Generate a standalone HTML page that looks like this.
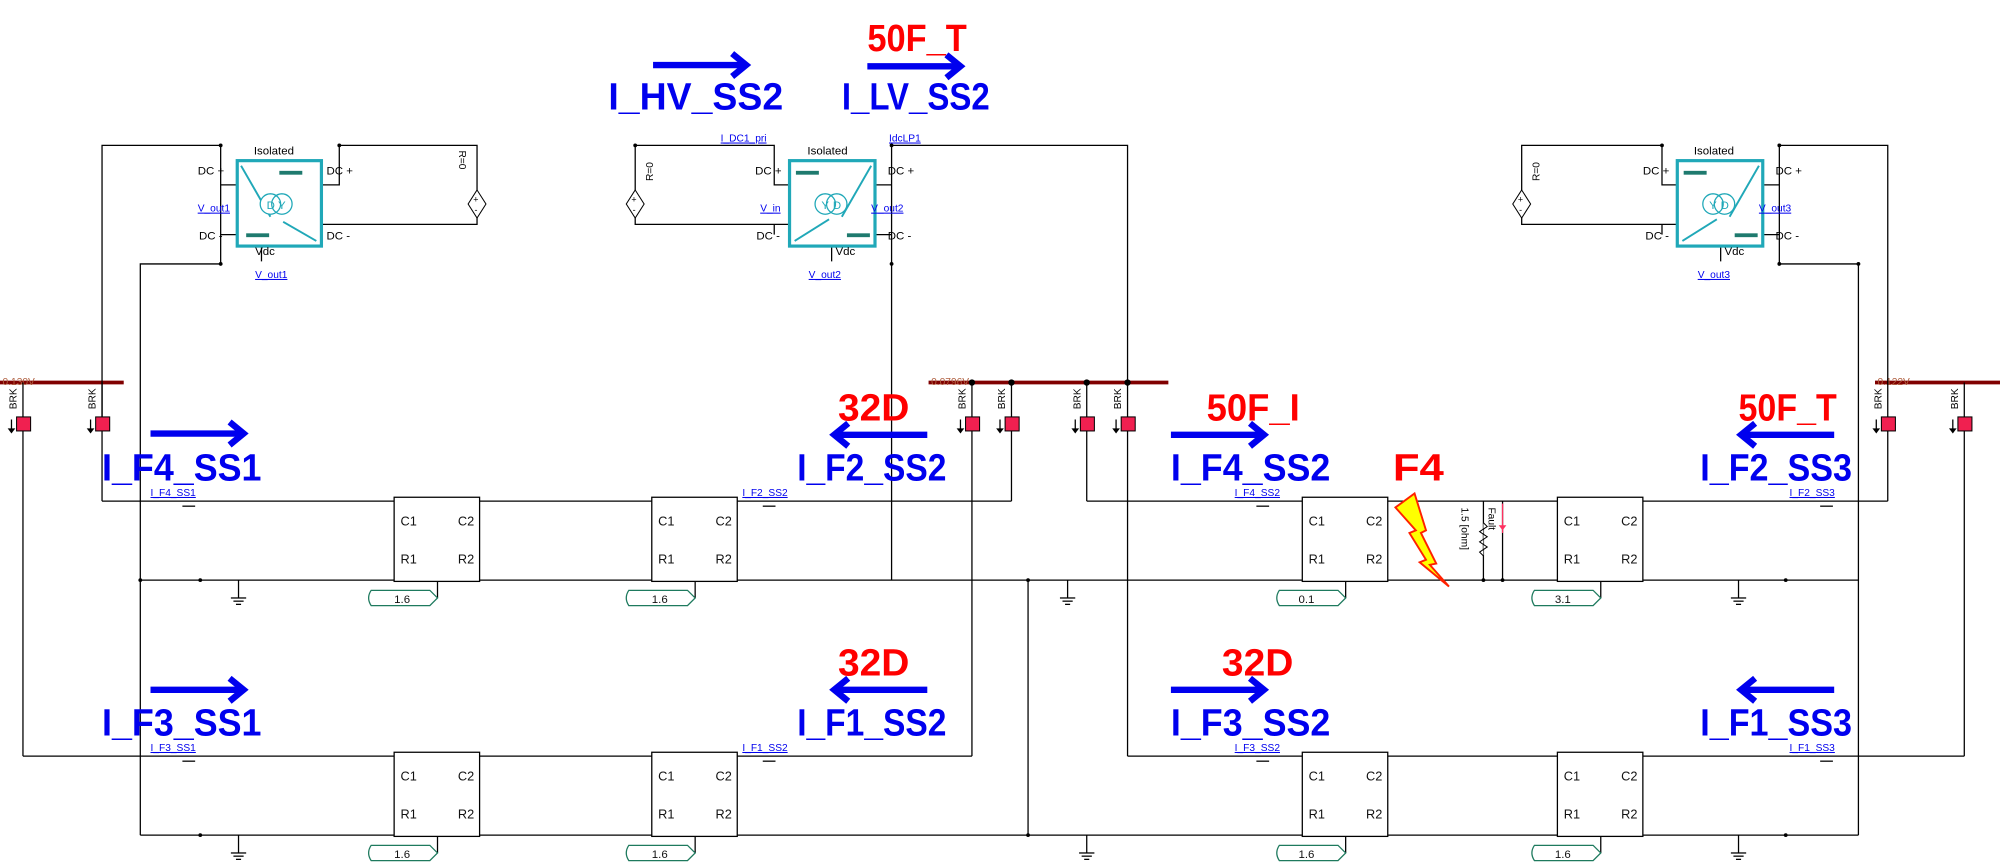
<!DOCTYPE html>
<html><head><meta charset="utf-8"><style>
html,body{margin:0;padding:0;background:#fff;}
svg{display:block;}
text{font-family:"Liberation Sans",sans-serif;}
.w{stroke:#000;stroke-width:1;fill:none;}
.big{font-weight:bold;font-size:30px;fill:#0000ee;}
.red{font-weight:bold;font-size:30px;fill:#ff0000;}
.sm{font-size:8px;fill:#0000ee;text-decoration:underline;}
.lb{font-size:9px;fill:#000;}
.tb{font-size:10px;fill:#111;}
.brk{font-size:8px;fill:#000;}
</style></head><body>
<svg width="2000" height="867" viewBox="0 0 1568 680" preserveAspectRatio="none" xmlns="http://www.w3.org/2000/svg">
<defs>
<g id="arR"><line x1="0" y1="0" x2="72" y2="0" stroke="#0000ee" stroke-width="5"/><polyline points="62,-9 73,0 62,9" fill="none" stroke="#0000ee" stroke-width="5"/></g>
<g id="arL"><line x1="0" y1="0" x2="72" y2="0" stroke="#0000ee" stroke-width="5"/><polyline points="10,-9 -1,0 10,9" fill="none" stroke="#0000ee" stroke-width="5"/></g>
<g id="tl">
<rect x="0" y="0" width="67" height="66" fill="#fff" stroke="#000" stroke-width="1"/>
<text class="tb" x="5" y="22">C1</text><text class="tb" x="50" y="22">C2</text>
<text class="tb" x="5" y="52">R1</text><text class="tb" x="50" y="52">R2</text>
<line x1="34" y1="66" x2="34" y2="79" stroke="#000"/>
</g>
<g id="tag"><path d="M4,0 H50 L56,6 L50,12 H4 Q0,6 4,0 Z" fill="#fff" stroke="#1e7a5e" stroke-width="1"/></g>
<g id="gnd"><line x1="0" y1="0" x2="0" y2="14" stroke="#000"/><line x1="-6" y1="14" x2="6" y2="14" stroke="#000"/><line x1="-4" y1="16.5" x2="4" y2="16.5" stroke="#000"/><line x1="-2" y1="19" x2="2" y2="19" stroke="#000"/></g>
<g id="brk"><rect x="-5" y="0" width="11" height="11" fill="#f02050" stroke="#000" stroke-width="0.8"/><line x1="-9" y1="2" x2="-9" y2="11" stroke="#000"/><polygon points="-12,9 -6,9 -9,13" fill="#000"/><text class="brk" transform="translate(-5,-6) rotate(-90)">BRK</text></g>
<g id="src"><polygon points="0,-11 7,0 0,11 -7,0" fill="#fff" stroke="#000" stroke-width="0.8"/><text x="-3" y="-1" font-size="7">+</text><text x="-2" y="7" font-size="7">-</text></g>
</defs>

<g stroke="#800000" stroke-width="3"><line x1="0" y1="300" x2="97" y2="300"/><line x1="728" y1="300" x2="916" y2="300"/><line x1="1470" y1="300" x2="1568" y2="300"/></g>
<text x="2" y="302" font-size="8" fill="#b06040">0.130V</text>
<text x="730" y="302" font-size="8" fill="#b06040">0.0796V</text>
<text x="1472" y="302" font-size="8" fill="#b06040">0.122V</text>
<g fill="#000"><circle cx="762" cy="300" r="2.5"/><circle cx="793" cy="300" r="2.5"/><circle cx="852" cy="300" r="2.5"/><circle cx="884" cy="300" r="2.5"/></g>

<g class="w">
<polyline points="80,393 80,114 173,114 173,207 110,207 110,655"/>
<line x1="173" y1="145" x2="186" y2="145"/><line x1="173" y1="184" x2="186" y2="184"/>
<polyline points="252,145 266,145 266,114 374,114 374,149"/>
<polyline points="252,176 374,176 374,171"/>
<line x1="205" y1="190" x2="205" y2="205"/>
<polyline points="498,149 498,114 607,114 607,145 619,145"/>
<polyline points="498,171 498,176 619,176"/>
<line x1="607" y1="176" x2="607" y2="184"/>
<polyline points="686,145 699,145"/><line x1="686" y1="184" x2="699" y2="184"/>
<polyline points="699,455 699,114 884,114 884,593"/>
<line x1="652" y1="190" x2="652" y2="205"/>
<polyline points="1193,149 1193,114 1303,114 1303,145 1315,145"/>
<polyline points="1193,171 1193,176 1315,176"/>
<line x1="1303" y1="176" x2="1303" y2="184"/>
<polyline points="1382,145 1395,145"/><line x1="1382" y1="184" x2="1395" y2="184"/>
<polyline points="1480,393 1480,114 1395,114 1395,207 1457,207 1457,655"/>
<line x1="1349" y1="190" x2="1349" y2="205"/>
<line x1="18" y1="300" x2="18" y2="593"/>
<line x1="80" y1="300" x2="80" y2="333"/>
<line x1="762" y1="300" x2="762" y2="593"/>
<line x1="793" y1="300" x2="793" y2="393"/>
<line x1="852" y1="300" x2="852" y2="393"/>
<line x1="1540" y1="300" x2="1540" y2="593"/>
<line x1="806" y1="455" x2="806" y2="655"/>
<line x1="80" y1="393" x2="793" y2="393"/>
<line x1="852" y1="393" x2="1480" y2="393"/>
<line x1="110" y1="455" x2="1457" y2="455"/>
<line x1="18" y1="593" x2="762" y2="593"/>
<line x1="884" y1="593" x2="1540" y2="593"/>
<line x1="110" y1="655" x2="1457" y2="655"/>
<line x1="1163" y1="393" x2="1163" y2="455"/>
<line x1="1178" y1="393" x2="1178" y2="455"/>
</g>
<polyline points="1163,410 1166,413 1160,417 1166,421 1160,425 1166,429 1160,433 1163,436" fill="#fff" stroke="#000" stroke-width="0.8"/>
<line x1="1178" y1="395" x2="1178" y2="418" stroke="#ff3060" stroke-width="1"/>
<polygon points="1175,412 1181,412 1178,416" fill="#ff3060"/>
<text font-size="8" transform="translate(1146,398) rotate(90)">1.5 [ohm]</text>
<text font-size="8" transform="translate(1167,398) rotate(90)">Fault</text>
<g fill="#000"><circle cx="1163" cy="455" r="1.5"/><circle cx="1178" cy="455" r="1.5"/><circle cx="157" cy="455" r="1.5"/><circle cx="157" cy="655" r="1.5"/><circle cx="110" cy="455" r="1.5"/><circle cx="806" cy="455" r="1.5"/><circle cx="806" cy="655" r="1.5"/><circle cx="1400" cy="455" r="1.5"/><circle cx="1400" cy="655" r="1.5"/><circle cx="173" cy="114" r="1.5"/><circle cx="173" cy="207" r="1.5"/><circle cx="266" cy="114" r="1.5"/><circle cx="498" cy="114" r="1.5"/><circle cx="699" cy="114" r="1.5"/><circle cx="699" cy="207" r="1.5"/><circle cx="1303" cy="114" r="1.5"/><circle cx="1395" cy="114" r="1.5"/><circle cx="1395" cy="207" r="1.5"/><circle cx="1457" cy="207" r="1.5"/></g>

<use href="#brk" x="18" y="327"/><use href="#brk" x="80" y="327"/>
<use href="#brk" x="762" y="327"/><use href="#brk" x="793" y="327"/>
<use href="#brk" x="852" y="327"/><use href="#brk" x="884" y="327"/>
<use href="#brk" x="1480" y="327"/><use href="#brk" x="1540" y="327"/>

<use href="#src" x="374" y="160"/><use href="#src" x="498" y="160"/><use href="#src" x="1193" y="160"/>
<text font-size="8" transform="translate(360,118) rotate(90)">R=0</text>
<text font-size="8" transform="translate(512,142) rotate(-90)">R=0</text>
<text font-size="8" transform="translate(1207,142) rotate(-90)">R=0</text>

<rect x="186" y="126" width="66" height="67" fill="#fff" stroke="#20a8b8" stroke-width="2.5"/>
<line x1="189" y1="130" x2="212" y2="170" stroke="#20a8b8" stroke-width="1.5"/><line x1="222" y1="174" x2="248" y2="189" stroke="#20a8b8" stroke-width="1.5"/>
<rect x="219" y="134" width="18" height="3" fill="#1e7a6e"/><rect x="193" y="183" width="18" height="3" fill="#1e7a6e"/>
<circle cx="212" cy="160" r="8" fill="#fff" stroke="#20a8b8"/><circle cx="221" cy="160" r="8" fill="none" stroke="#20a8b8"/>
<text x="209" y="164" font-size="9" fill="#20a8b8">D</text><text x="218" y="164" font-size="9" fill="#20a8b8">Y</text>
<text class="lb" x="199" y="121">Isolated</text>
<text class="lb" x="155" y="137">DC +</text><text class="lb" x="156" y="188">DC -</text>
<text class="lb" x="256" y="137">DC +</text><text class="lb" x="256" y="188">DC -</text>
<text class="lb" x="200" y="200">Vdc</text>
<text class="sm" x="155" y="166">V_out1</text><text class="sm" x="200" y="218">V_out1</text>

<rect x="619" y="126" width="67" height="67" fill="#fff" stroke="#20a8b8" stroke-width="2.5"/>
<line x1="683" y1="130" x2="660" y2="170" stroke="#20a8b8" stroke-width="1.5"/><line x1="650" y1="172" x2="623" y2="189" stroke="#20a8b8" stroke-width="1.5"/>
<rect x="624" y="134" width="18" height="3" fill="#1e7a6e"/><rect x="664" y="183" width="18" height="3" fill="#1e7a6e"/>
<circle cx="647" cy="160" r="8" fill="#fff" stroke="#20a8b8"/><circle cx="656" cy="160" r="8" fill="none" stroke="#20a8b8"/>
<text x="644" y="164" font-size="9" fill="#20a8b8">Y</text><text x="653" y="164" font-size="9" fill="#20a8b8">D</text>
<text class="lb" x="633" y="121">Isolated</text>
<text class="lb" x="592" y="137">DC +</text><text class="lb" x="593" y="188">DC -</text>
<text class="lb" x="696" y="137">DC +</text><text class="lb" x="696" y="188">DC -</text>
<text class="lb" x="655" y="200">Vdc</text>
<text class="sm" x="596" y="166">V_in</text><text class="sm" x="683" y="166">V_out2</text><text class="sm" x="634" y="218">V_out2</text>
<text class="sm" x="565" y="111">I_DC1_pri</text><text class="sm" x="697" y="111">IdcLP1</text>

<rect x="1315" y="126" width="67" height="67" fill="#fff" stroke="#20a8b8" stroke-width="2.5"/>
<line x1="1379" y1="130" x2="1356" y2="170" stroke="#20a8b8" stroke-width="1.5"/><line x1="1346" y1="172" x2="1319" y2="189" stroke="#20a8b8" stroke-width="1.5"/>
<rect x="1320" y="134" width="18" height="3" fill="#1e7a6e"/><rect x="1360" y="183" width="18" height="3" fill="#1e7a6e"/>
<circle cx="1343" cy="160" r="8" fill="#fff" stroke="#20a8b8"/><circle cx="1352" cy="160" r="8" fill="none" stroke="#20a8b8"/>
<text x="1340" y="164" font-size="9" fill="#20a8b8">Y</text><text x="1349" y="164" font-size="9" fill="#20a8b8">D</text>
<text class="lb" x="1328" y="121">Isolated</text>
<text class="lb" x="1288" y="137">DC +</text><text class="lb" x="1290" y="188">DC -</text>
<text class="lb" x="1392" y="137">DC +</text><text class="lb" x="1392" y="188">DC -</text>
<text class="lb" x="1352" y="200">Vdc</text>
<text class="sm" x="1379" y="166">V_out3</text><text class="sm" x="1331" y="218">V_out3</text>

<use href="#tl" x="309" y="390"/><use href="#tl" x="511" y="390"/><use href="#tl" x="1021" y="390"/><use href="#tl" x="1221" y="390"/>
<use href="#tl" x="309" y="590"/><use href="#tl" x="511" y="590"/><use href="#tl" x="1021" y="590"/><use href="#tl" x="1221" y="590"/>
<g font-size="9" fill="#111">
<use href="#tag" x="287" y="463"/><text x="309" y="473">1.6</text>
<use href="#tag" x="489" y="463"/><text x="511" y="473">1.6</text>
<use href="#tag" x="999" y="463"/><text x="1018" y="473">0.1</text>
<use href="#tag" x="1199" y="463"/><text x="1219" y="473">3.1</text>
<use href="#tag" x="287" y="663"/><text x="309" y="673">1.6</text>
<use href="#tag" x="489" y="663"/><text x="511" y="673">1.6</text>
<use href="#tag" x="999" y="663"/><text x="1018" y="673">1.6</text>
<use href="#tag" x="1199" y="663"/><text x="1219" y="673">1.6</text>
</g>
<use href="#gnd" x="187" y="455"/><use href="#gnd" x="837" y="455"/><use href="#gnd" x="1363" y="455"/>
<use href="#gnd" x="187" y="655"/><use href="#gnd" x="852" y="655"/><use href="#gnd" x="1363" y="655"/>

<g class="sm">
<text x="118" y="389">I_F4_SS1</text><text x="582" y="389">I_F2_SS2</text><text x="968" y="389">I_F4_SS2</text><text x="1403" y="389">I_F2_SS3</text>
<text x="118" y="589">I_F3_SS1</text><text x="582" y="589">I_F1_SS2</text><text x="968" y="589">I_F3_SS2</text><text x="1403" y="589">I_F1_SS3</text>
</g>
<g stroke="#000" stroke-width="1">
<line x1="143" y1="397" x2="153" y2="397"/><line x1="598" y1="397" x2="608" y2="397"/><line x1="985" y1="397" x2="995" y2="397"/><line x1="1427" y1="397" x2="1437" y2="397"/>
<line x1="143" y1="597" x2="153" y2="597"/><line x1="598" y1="597" x2="608" y2="597"/><line x1="985" y1="597" x2="995" y2="597"/><line x1="1427" y1="597" x2="1437" y2="597"/>
</g>

<polygon points="1094,398 1109,387 1118,416 1114,418 1126,442 1121,443 1136,460 1113,441 1118,439 1105,418 1110,416" fill="#ffff00" stroke="#ff2000" stroke-width="1.5"/>

<use href="#arR" x="512" y="51"/><use href="#arR" x="680" y="52"/>
<text class="red" x="680" y="40" textLength="78" lengthAdjust="spacingAndGlyphs">50F_T</text>
<text class="big" x="477" y="86" textLength="137" lengthAdjust="spacingAndGlyphs">I_HV_SS2</text>
<text class="big" x="660" y="86" textLength="116" lengthAdjust="spacingAndGlyphs">I_LV_SS2</text>

<use href="#arR" x="118" y="340"/>
<text class="big" x="80" y="377" textLength="125" lengthAdjust="spacingAndGlyphs">I_F4_SS1</text>
<text class="red" x="657" y="330" textLength="56" lengthAdjust="spacingAndGlyphs">32D</text>
<use href="#arL" x="655" y="341"/>
<text class="big" x="625" y="377" textLength="117" lengthAdjust="spacingAndGlyphs">I_F2_SS2</text>
<text class="red" x="946" y="330" textLength="73" lengthAdjust="spacingAndGlyphs">50F_I</text>
<use href="#arR" x="918" y="341"/>
<text class="big" x="918" y="377" textLength="125" lengthAdjust="spacingAndGlyphs">I_F4_SS2</text>
<text class="red" x="1092" y="377" textLength="40" lengthAdjust="spacingAndGlyphs">F4</text>
<text class="red" x="1363" y="330" textLength="77" lengthAdjust="spacingAndGlyphs">50F_T</text>
<use href="#arL" x="1366" y="341"/>
<text class="big" x="1333" y="377" textLength="119" lengthAdjust="spacingAndGlyphs">I_F2_SS3</text>

<use href="#arR" x="118" y="541"/>
<text class="big" x="80" y="577" textLength="125" lengthAdjust="spacingAndGlyphs">I_F3_SS1</text>
<text class="red" x="657" y="530" textLength="56" lengthAdjust="spacingAndGlyphs">32D</text>
<use href="#arL" x="655" y="541"/>
<text class="big" x="625" y="577" textLength="117" lengthAdjust="spacingAndGlyphs">I_F1_SS2</text>
<text class="red" x="958" y="530" textLength="56" lengthAdjust="spacingAndGlyphs">32D</text>
<use href="#arR" x="918" y="541"/>
<text class="big" x="918" y="577" textLength="125" lengthAdjust="spacingAndGlyphs">I_F3_SS2</text>
<use href="#arL" x="1366" y="541"/>
<text class="big" x="1333" y="577" textLength="119" lengthAdjust="spacingAndGlyphs">I_F1_SS3</text>
</svg>
</body></html>
